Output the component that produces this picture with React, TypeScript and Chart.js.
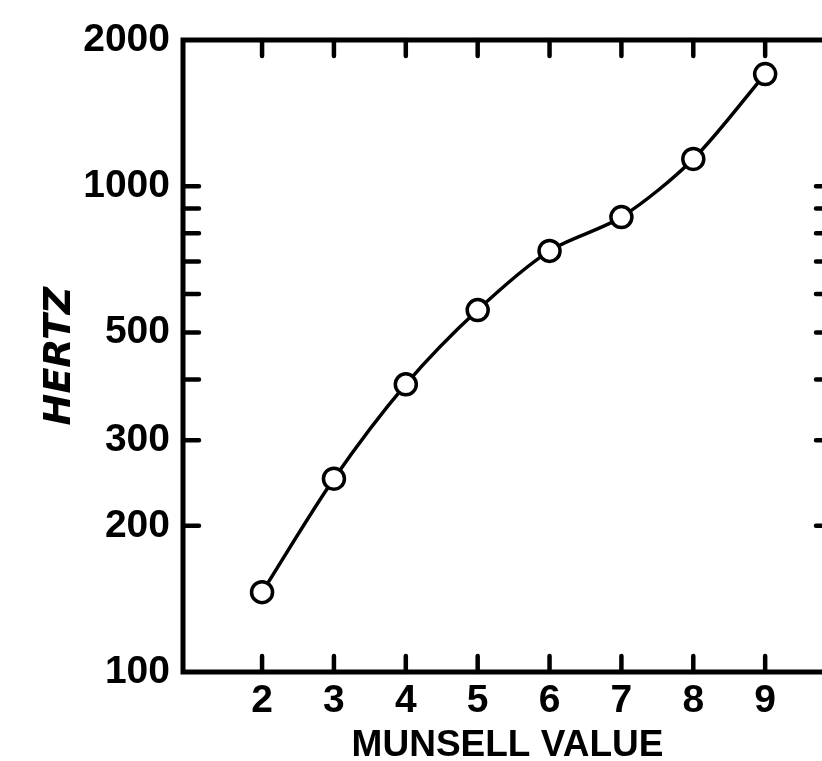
import React, { useEffect, useRef } from 'react';
import { Chart, registerables } from 'chart.js';

Chart.register(...registerables);

// Data
const munsellValues = [2, 3, 4, 5, 6, 7, 8, 9];
const hertzValues = [146, 250, 391, 556, 736, 864, 1138, 1702];

// Axis ticks
const xTickValues = [2, 3, 4, 5, 6, 7, 8, 9];
const yTickValues = [100, 200, 300, 400, 500, 600, 700, 800, 900, 1000, 2000];
const yLabelledValues = [100, 200, 300, 500, 1000, 2000];
const yMarkedValues = [200, 300, 400, 500, 600, 700, 800, 900, 1000];

const X_MIN = 0.9;
const X_MAX = 9.93;
const Y_MIN = 100;
const Y_MAX = 2000;

const labelFont = { family: '"Liberation Sans", Arial, sans-serif', size: 39, weight: 'bold' as const };

const frameTicksPlugin = {
  id: 'frameTicks',
  beforeDatasetsDraw(chart: any) {
    const { ctx, chartArea: a, scales } = chart;
    const xs = scales.x;
    const ys = scales.y;
    ctx.save();
    ctx.strokeStyle = '#000';
    ctx.lineWidth = 5;
    ctx.lineJoin = 'miter';
    ctx.strokeRect(a.left, a.top, a.right - a.left, a.bottom - a.top);
    ctx.lineWidth = 4.5;
    ctx.lineCap = 'round';
    const L = 16;
    ctx.beginPath();
    for (const v of xTickValues) {
      const px = xs.getPixelForValue(v);
      ctx.moveTo(px, a.bottom);
      ctx.lineTo(px, a.bottom - L);
      ctx.moveTo(px, a.top);
      ctx.lineTo(px, a.top + L);
    }
    for (const v of yMarkedValues) {
      const py = ys.getPixelForValue(v);
      ctx.moveTo(a.left, py);
      ctx.lineTo(a.left + L, py);
      ctx.moveTo(a.right, py);
      ctx.lineTo(a.right - L, py);
    }
    ctx.stroke();
    ctx.restore();
  },
};

export default function App() {
  const ref = useRef<HTMLCanvasElement>(null);

  useEffect(() => {
    const chart = new Chart(ref.current as HTMLCanvasElement, {
      type: 'line',
      data: {
        datasets: [
          {
            data: munsellValues.map((x, i) => ({ x, y: hertzValues[i] })),
            borderColor: '#000',
            borderWidth: 3.5,
            tension: 0.3,
            fill: false,
            pointRadius: 10.5,
            pointBorderWidth: 3.5,
            pointBackgroundColor: '#fff',
            pointBorderColor: '#000',
          },
        ],
      },
      options: {
        responsive: false,
        devicePixelRatio: 1,
        animation: false,
        events: [],
        layout: { padding: { left: 0, top: 40, right: 28, bottom: 0 } },
        plugins: { legend: { display: false }, tooltip: { enabled: false } },
        scales: {
          x: {
            type: 'linear',
            min: X_MIN,
            max: X_MAX,
            afterBuildTicks: (s: any) => {
              s.ticks = xTickValues.map((v) => ({ value: v }));
            },
            afterFit: (s: any) => {
              s.height = 128;
            },
            grid: { display: false, drawTicks: false },
            border: { display: false },
            ticks: {
              autoSkip: false,
              maxRotation: 0,
              minRotation: 0,
              padding: 6,
              color: '#000',
              font: labelFont,
              callback: (v: any) => String(v),
            },
            title: {
              display: true,
              text: 'MUNSELL VALUE',
              color: '#000',
              font: { family: '"Liberation Sans", Arial, sans-serif', size: 37, weight: 'bold' },
              padding: { top: 0, bottom: 32 },
            },
          },
          y: {
            type: 'logarithmic',
            min: Y_MIN,
            max: Y_MAX,
            afterBuildTicks: (s: any) => {
              s.ticks = yTickValues.map((v) => ({ value: v }));
            },
            afterFit: (s: any) => {
              s.width = 183;
            },
            grid: { display: false, drawTicks: false },
            border: { display: false },
            ticks: {
              autoSkip: false,
              padding: 13,
              color: '#000',
              font: labelFont,
              callback: (v: any) => (yLabelledValues.includes(Number(v)) ? String(v) : ''),
            },
            title: {
              display: true,
              text: 'HERTZ',
              color: '#000',
              font: { family: '"DejaVu Sans", sans-serif', size: 38, weight: 'bold', style: 'italic' },
              padding: { top: 37, bottom: 0 },
            },
          },
        },
      },
      plugins: [frameTicksPlugin],
    });
    return () => chart.destroy();
  }, []);

  return (
    <div
      style={{
        position: 'fixed',
        left: 0,
        top: 0,
        width: 822,
        height: 761,
        overflow: 'hidden',
        background: '#fff',
      }}
    >
      <canvas ref={ref} width={860} height={800} style={{ display: 'block', width: 860, height: 800 }} />
    </div>
  );
}
